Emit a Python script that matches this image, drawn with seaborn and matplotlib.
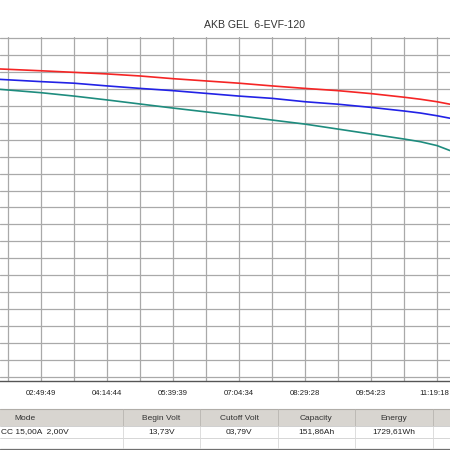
import numpy as np
import pandas as pd
import seaborn as sns
import matplotlib.pyplot as plt
from matplotlib.patches import Rectangle
from matplotlib.transforms import ScaledTranslation

sns.set_style("white")
plt.rcParams['font.family'] = ['Liberation Sans', 'DejaVu Sans']

title = "AKB GEL  6-EVF-120"

# time in seconds since start of discharge (visible window only)
t_sec = [7000, 10189, 12737, 15284, 17832, 20379, 22926, 25474, 28021,
         30569, 33116, 35663, 38211, 39480, 40758, 41760]
v_red = [13.63, 13.55, 13.48, 13.41, 13.32, 13.20, 13.10, 13.00, 12.88,
         12.77, 12.67, 12.54, 12.38, 12.29, 12.18, 12.07]
v_blue = [13.17, 13.07, 13.00, 12.88, 12.77, 12.67, 12.55, 12.43, 12.33,
          12.18, 12.07, 11.93, 11.77, 11.68, 11.56, 11.45]
v_teal = [12.73, 12.58, 12.43, 12.26, 12.08, 11.90, 11.73, 11.56, 11.37,
          11.19, 10.97, 10.75, 10.53, 10.41, 10.24, 10.02]

tick_sec = [10189.5, 15284.25, 20379, 25473.75, 30568.5, 35663.25, 40758]
tick_labels = ["02:49:49", "04:14:44", "05:39:39", "07:04:34",
               "08:29:28", "09:54:23", "11:19:18"]

table_cols = ["Mode", "Begin Volt", "Cutoff Volt", "Capacity", "Energy", ""]
table_vals = ["CC 15,00A  2,00V", "13,73V", "03,79V", "151,86Ah", "1729,61Wh", ""]

df = pd.DataFrame({
    "t": t_sec * 3,
    "v": v_red + v_blue + v_teal,
    "cell": ["a"] * len(t_sec) + ["b"] * len(t_sec) + ["c"] * len(t_sec),
})

W = H = 450
fig = plt.figure(figsize=(4.5, 4.5), dpi=100)
fig.patch.set_facecolor("white")

# plot area in pixels: top 37, bottom 381, full width (chart is cropped on the sides)
top_px, bot_px = 37, 381
ax = fig.add_axes([0, 1 - bot_px / H, 1, (bot_px - top_px) / H])

sns.lineplot(data=df, x="t", y="v", hue="cell",
             palette=["#f52525", "#2222e6", "#1e8c7e"],
             linewidth=1.2, legend=False, ax=ax)

px_per_v = 339 / 15.0
sec_per_px = 5094.75 / 66
x0 = 10189.5 - 41 * sec_per_px
x1 = x0 + W * sec_per_px

ax.set_xticks(tick_sec)
ax.set_xticklabels(tick_labels, fontsize=5.6, color="#222222")
grid_x = np.arange(3, 17) * 2547.375
ax.set_xticks(grid_x, minor=True)
ax.set_yticks(np.arange(0, 15.01, 0.75))
ax.set_xlim(x0, x1)
ax.set_ylim(-(bot_px - 377) / px_per_v, 15 + (38 - top_px) / px_per_v)
ax.tick_params(axis="y", length=0, labelleft=False)
ax.tick_params(axis="x", which="major", length=3, width=0.8, color="#444444", pad=3.5)
ax.tick_params(axis="x", which="minor", length=0)
ax.grid(True, which="both", axis="x", color="#a9a9a9", linewidth=0.9)
ax.grid(True, which="major", axis="y", color="#a9a9a9", linewidth=0.9)
ax.set_axisbelow(True)
for s in ["left", "right", "top"]:
    ax.spines[s].set_visible(False)
ax.spines["bottom"].set_color("#555555")
ax.spines["bottom"].set_linewidth(1.0)
ax.set_xlabel("")
ax.set_ylabel("")

# keep the last label inside the picture
last = ax.get_xticklabels()[-1]
last.set_transform(last.get_transform() + ScaledTranslation(-3 / 100, 0, fig.dpi_scale_trans))

fig.text(255 / W, 1 - 25 / H, title, ha="center", va="center",
         fontsize=7.6, color="#333333")

# summary table at the bottom
tab = fig.add_axes([0, 0, 1, 50 / H])
tab.set_xlim(0, W)
tab.set_ylim(450, 400)
tab.axis("off")
col_edges = [-73, 123, 200, 278, 355, 433, 500]
tab.add_patch(Rectangle((-5, 409), W + 10, 17, facecolor="#d8d5d0",
                        edgecolor="none"))
tab.plot([0, W], [408.5, 408.5], color="#b0ada8", lw=0.8)
tab.plot([0, W], [426, 426], color="#c8c8c8", lw=0.6)
tab.plot([0, W], [437.5, 437.5], color="#d0d0d0", lw=0.6)
tab.plot([0, W], [448.5, 448.5], color="#707070", lw=0.9)
for e in col_edges[1:-1]:
    tab.plot([e, e], [409, 426], color="#b8b5b0", lw=0.6)
    tab.plot([e, e], [426, 448], color="#d8d8d8", lw=0.6)
for i in range(len(table_cols)):
    c = (col_edges[i] + col_edges[i + 1]) / 2
    tab.text(c if i else 25, 418, table_cols[i], ha="center", va="center",
             fontsize=6.0, color="#333333")
    if i == 0:
        tab.text(1, 432, table_vals[i], ha="left", va="center",
                 fontsize=6.0, color="#222222")
    else:
        tab.text(c, 432, table_vals[i], ha="center", va="center",
                 fontsize=6.0, color="#222222")

fig.savefig("out.png", dpi=100, facecolor="white")
